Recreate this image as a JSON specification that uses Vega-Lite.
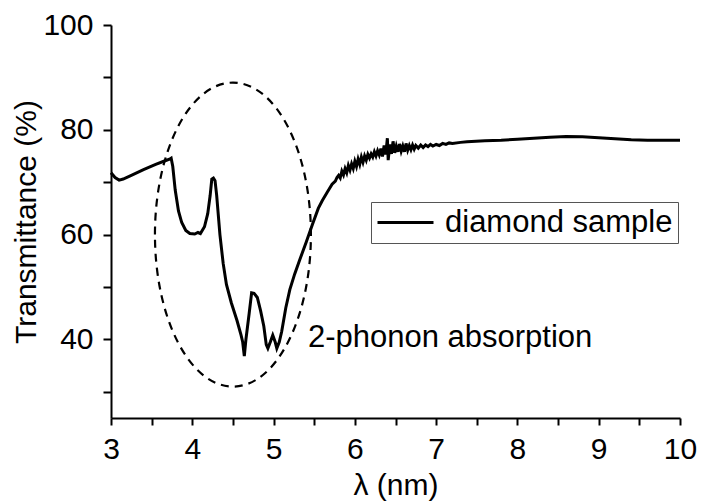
{
  "$schema": "https://vega.github.io/schema/vega-lite/v6.json",
  "width": 569,
  "height": 393,
  "autosize": {"type": "none"},
  "padding": {"left": 111, "top": 25, "right": 21, "bottom": 84},
  "background": "white",
  "config": {
    "view": {"stroke": null},
    "font": "Liberation Sans",
    "axis": {
      "grid": false,
      "domainColor": "black",
      "domainWidth": 2,
      "tickColor": "black",
      "tickWidth": 2,
      "labelColor": "black",
      "labelFont": "Liberation Sans",
      "labelFontSize": 30,
      "labelOverlap": false,
      "labelFlush": false,
      "titleFont": "Liberation Sans",
      "titleFontSize": 30,
      "titleFontWeight": "normal",
      "titleColor": "black"
    }
  },
  "datasets": {
    "spectrum": [
      {"x": 3.00, "y": 71.8}, {"x": 3.05, "y": 70.9}, {"x": 3.10, "y": 70.4}, {"x": 3.15, "y": 70.6},
      {"x": 3.25, "y": 71.3}, {"x": 3.40, "y": 72.4}, {"x": 3.55, "y": 73.4}, {"x": 3.65, "y": 74.0},
      {"x": 3.72, "y": 74.4}, {"x": 3.74, "y": 74.6}, {"x": 3.76, "y": 73.0}, {"x": 3.79, "y": 68.5},
      {"x": 3.83, "y": 64.5}, {"x": 3.87, "y": 62.3}, {"x": 3.92, "y": 60.8}, {"x": 3.97, "y": 60.2},
      {"x": 4.03, "y": 60.1}, {"x": 4.07, "y": 60.4}, {"x": 4.10, "y": 60.2}, {"x": 4.15, "y": 61.5},
      {"x": 4.19, "y": 64.0}, {"x": 4.22, "y": 67.5}, {"x": 4.24, "y": 70.6}, {"x": 4.26, "y": 70.8},
      {"x": 4.28, "y": 70.3}, {"x": 4.30, "y": 67.5}, {"x": 4.34, "y": 60.0}, {"x": 4.38, "y": 54.5},
      {"x": 4.42, "y": 50.5}, {"x": 4.48, "y": 47.0}, {"x": 4.55, "y": 43.6}, {"x": 4.60, "y": 40.8},
      {"x": 4.62, "y": 39.5}, {"x": 4.64, "y": 36.8}, {"x": 4.66, "y": 40.0}, {"x": 4.70, "y": 45.0},
      {"x": 4.73, "y": 48.9}, {"x": 4.76, "y": 48.8}, {"x": 4.80, "y": 48.0}, {"x": 4.84, "y": 45.5},
      {"x": 4.88, "y": 42.5}, {"x": 4.91, "y": 39.0}, {"x": 4.93, "y": 38.3}, {"x": 4.96, "y": 39.5},
      {"x": 4.99, "y": 40.8}, {"x": 5.02, "y": 39.5}, {"x": 5.04, "y": 38.3}, {"x": 5.07, "y": 39.5},
      {"x": 5.10, "y": 41.5}, {"x": 5.15, "y": 46.0}, {"x": 5.20, "y": 49.5}, {"x": 5.26, "y": 52.5},
      {"x": 5.32, "y": 55.1}, {"x": 5.40, "y": 58.5}, {"x": 5.48, "y": 62.0}, {"x": 5.55, "y": 65.0},
      {"x": 5.60, "y": 66.5}, {"x": 5.66, "y": 68.1}, {"x": 5.72, "y": 69.6}, {"x": 5.76, "y": 70.2},
      {"x": 5.78, "y": 70.9}, {"x": 5.80, "y": 71.3}, {"x": 5.82, "y": 70.8}, {"x": 5.84, "y": 72.1},
      {"x": 5.86, "y": 71.4}, {"x": 5.88, "y": 72.6}, {"x": 5.90, "y": 71.8}, {"x": 5.92, "y": 73.2},
      {"x": 5.94, "y": 72.3}, {"x": 5.96, "y": 73.5}, {"x": 5.98, "y": 72.6}, {"x": 6.00, "y": 74.0},
      {"x": 6.02, "y": 73.0}, {"x": 6.04, "y": 74.4}, {"x": 6.06, "y": 73.4}, {"x": 6.08, "y": 74.8},
      {"x": 6.10, "y": 73.8}, {"x": 6.12, "y": 75.0}, {"x": 6.14, "y": 74.2}, {"x": 6.16, "y": 75.3},
      {"x": 6.18, "y": 74.6}, {"x": 6.20, "y": 75.4}, {"x": 6.22, "y": 74.8}, {"x": 6.24, "y": 75.8},
      {"x": 6.26, "y": 75.0}, {"x": 6.28, "y": 76.0}, {"x": 6.30, "y": 75.2}, {"x": 6.32, "y": 76.4},
      {"x": 6.34, "y": 74.9}, {"x": 6.36, "y": 77.0}, {"x": 6.38, "y": 75.3}, {"x": 6.40, "y": 78.4},
      {"x": 6.41, "y": 74.2}, {"x": 6.43, "y": 77.2}, {"x": 6.45, "y": 75.4}, {"x": 6.47, "y": 77.8},
      {"x": 6.49, "y": 75.6}, {"x": 6.51, "y": 76.9}, {"x": 6.53, "y": 75.8}, {"x": 6.55, "y": 77.3},
      {"x": 6.57, "y": 75.9}, {"x": 6.59, "y": 76.9}, {"x": 6.61, "y": 75.8}, {"x": 6.63, "y": 77.4},
      {"x": 6.65, "y": 76.1}, {"x": 6.67, "y": 77.0}, {"x": 6.69, "y": 76.2}, {"x": 6.71, "y": 77.1},
      {"x": 6.73, "y": 76.3}, {"x": 6.75, "y": 77.0}, {"x": 6.78, "y": 76.5}, {"x": 6.81, "y": 77.1},
      {"x": 6.84, "y": 76.6}, {"x": 6.87, "y": 77.1}, {"x": 6.90, "y": 76.8}, {"x": 6.93, "y": 77.2},
      {"x": 6.96, "y": 76.9}, {"x": 7.00, "y": 77.2}, {"x": 7.04, "y": 77.0}, {"x": 7.08, "y": 77.4},
      {"x": 7.12, "y": 77.2}, {"x": 7.16, "y": 77.5}, {"x": 7.20, "y": 77.4}, {"x": 7.30, "y": 77.6},
      {"x": 7.38, "y": 77.7}, {"x": 7.60, "y": 77.9}, {"x": 7.80, "y": 78.0}, {"x": 8.00, "y": 78.2},
      {"x": 8.20, "y": 78.4}, {"x": 8.40, "y": 78.6}, {"x": 8.60, "y": 78.7}, {"x": 8.80, "y": 78.65},
      {"x": 9.00, "y": 78.5}, {"x": 9.20, "y": 78.3}, {"x": 9.40, "y": 78.1}, {"x": 9.60, "y": 78.0},
      {"x": 10.00, "y": 78.0}
    ],
    "ellipse": [{"x": 4.5, "y": 60.0}],
    "note": [{"x": 5.423, "y": 38.6, "label": "2-phonon absorption"}]
  },
  "layer": [
    {
      "data": {"name": "spectrum"},
      "transform": [{"calculate": "'diamond sample'", "as": "series"}],
      "mark": {"type": "line", "strokeWidth": 3, "interpolate": "linear"},
      "encoding": {
        "x": {
          "field": "x", "type": "quantitative",
          "scale": {"domain": [3, 10], "nice": false, "zero": false},
          "axis": {
            "title": "λ (nm)",
            "values": [3, 3.5, 4, 4.5, 5, 5.5, 6, 6.5, 7, 7.5, 8, 8.5, 9, 9.5, 10],
            "labelExpr": "datum.value % 1 === 0 ? format(datum.value, 'd') : ''",
            "tickSize": 7,
            "labelPadding": 9,
            "titlePadding": 6
          }
        },
        "y": {
          "field": "y", "type": "quantitative",
          "scale": {"domain": [25, 100], "nice": false, "zero": false},
          "axis": {
            "title": "Transmittance (%)",
            "values": [30, 40, 50, 60, 70, 80, 90, 100],
            "labelExpr": "datum.value % 20 === 0 ? format(datum.value, 'd') : ''",
            "tickSize": 8,
            "labelPadding": 10,
            "titlePadding": 1
          }
        },
        "order": {"field": "x", "type": "quantitative"},
        "color": {
          "field": "series", "type": "nominal",
          "scale": {"range": ["black"]},
          "legend": {
            "title": null,
            "orient": "none",
            "legendX": 260,
            "legendY": 177,
            "strokeColor": "#555555",
            "fillColor": "white",
            "padding": 5,
            "symbolType": "M -1 0 H 3",
            "symbolSize": 784,
            "symbolStrokeWidth": 3,
            "labelFont": "Liberation Sans",
            "labelFontSize": 31,
            "labelLimit": 400,
            "labelColor": "black",
            "labelOffset": 38
          }
        }
      }
    },
    {
      "data": {"name": "ellipse"},
      "mark": {
        "type": "point",
        "shape": "M -0.513 0 A 0.513 1 0 1 1 0.513 0 A 0.513 1 0 1 1 -0.513 0 Z",
        "size": 92416,
        "filled": false,
        "stroke": "black",
        "strokeWidth": 2.2,
        "strokeDash": [8, 6],
        "opacity": 1
      },
      "encoding": {
        "x": {"field": "x", "type": "quantitative"},
        "y": {"field": "y", "type": "quantitative"}
      }
    },
    {
      "data": {"name": "note"},
      "mark": {"type": "text", "align": "left", "baseline": "alphabetic", "font": "Liberation Sans", "fontSize": 31, "color": "black"},
      "encoding": {
        "x": {"field": "x", "type": "quantitative"},
        "y": {"field": "y", "type": "quantitative"},
        "text": {"field": "label"}
      }
    }
  ]
}
